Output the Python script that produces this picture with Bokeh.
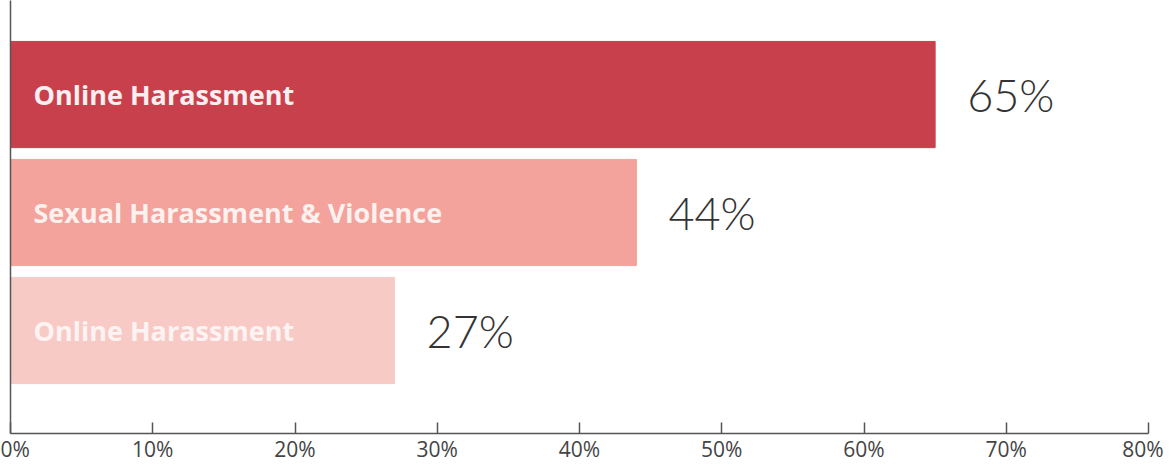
from bokeh.plotting import figure
from bokeh.models import Range1d, FixedTicker, ColumnDataSource, CustomJSTickFormatter, LinearAxis
from bokeh.core.properties import value
from bokeh.embed import file_html
from bokeh.resources import INLINE

categories = ["Online Harassment", "Sexual Harassment & Violence", "Online Harassment"]
values = [65, 44, 27]
value_labels = ["65%", "44%", "27%"]
bar_colors = ["#c8404b", "#f3a39b", "#f8cac6"]
text_colors = ["#fbeef0", "#fdf1ef", "#fdf3f2"]
ticks = [0, 10, 20, 30, 40, 50, 60, 70, 80]

ypos = [3, 2, 1]
src = ColumnDataSource(dict(y=ypos, v=values, cat=categories, lab=value_labels,
                            color=bar_colors, tcol=text_colors))

p = figure(width=1163, height=465, output_backend="svg", toolbar_location=None,
           x_range=Range1d(0, 80), y_range=Range1d(0.127, 3.797),
           min_border_left=10, min_border_right=15, min_border_top=0, min_border_bottom=0,
           x_axis_location=None, y_axis_location=None)
p.outline_line_color = None
p.grid.visible = False
p.background_fill_color = "white"

p.hbar(y="y", left=0, right="v", height=0.9, color="color", source=src)
p.text(x=0, y="y", text="cat", x_offset=23, text_color="tcol", text_font=value("Open Sans"),
       text_font_style="bold", text_font_size="27px", text_baseline="middle", source=src)
p.text(x="v", y="y", text="lab", x_offset=32, text_color="#333333",
       text_font=value("Lato Light"), text_font_size="45px", text_baseline="middle", source=src)

xaxis = LinearAxis(ticker=FixedTicker(ticks=ticks))
xaxis.formatter = CustomJSTickFormatter(code="return tick + '%';")
xaxis.axis_line_color = "#555555"
xaxis.axis_line_width = 1.5
xaxis.major_tick_line_color = "#555555"
xaxis.major_tick_line_width = 1.5
xaxis.major_tick_in = 11
xaxis.major_tick_out = 0
xaxis.minor_tick_line_color = None
xaxis.major_label_text_font = "Open Sans"
xaxis.major_label_text_font_size = "21px"
xaxis.major_label_text_color = "#444444"
xaxis.major_label_standoff = 1
p.add_layout(xaxis, "below")

yaxis = LinearAxis(ticker=FixedTicker(ticks=[]))
yaxis.axis_line_color = "#555555"
yaxis.axis_line_width = 1.5
yaxis.major_tick_line_color = None
yaxis.minor_tick_line_color = None
yaxis.major_label_text_font_size = "0px"
p.add_layout(yaxis, "left")

open("out.html", "w").write(file_html(p, INLINE))
